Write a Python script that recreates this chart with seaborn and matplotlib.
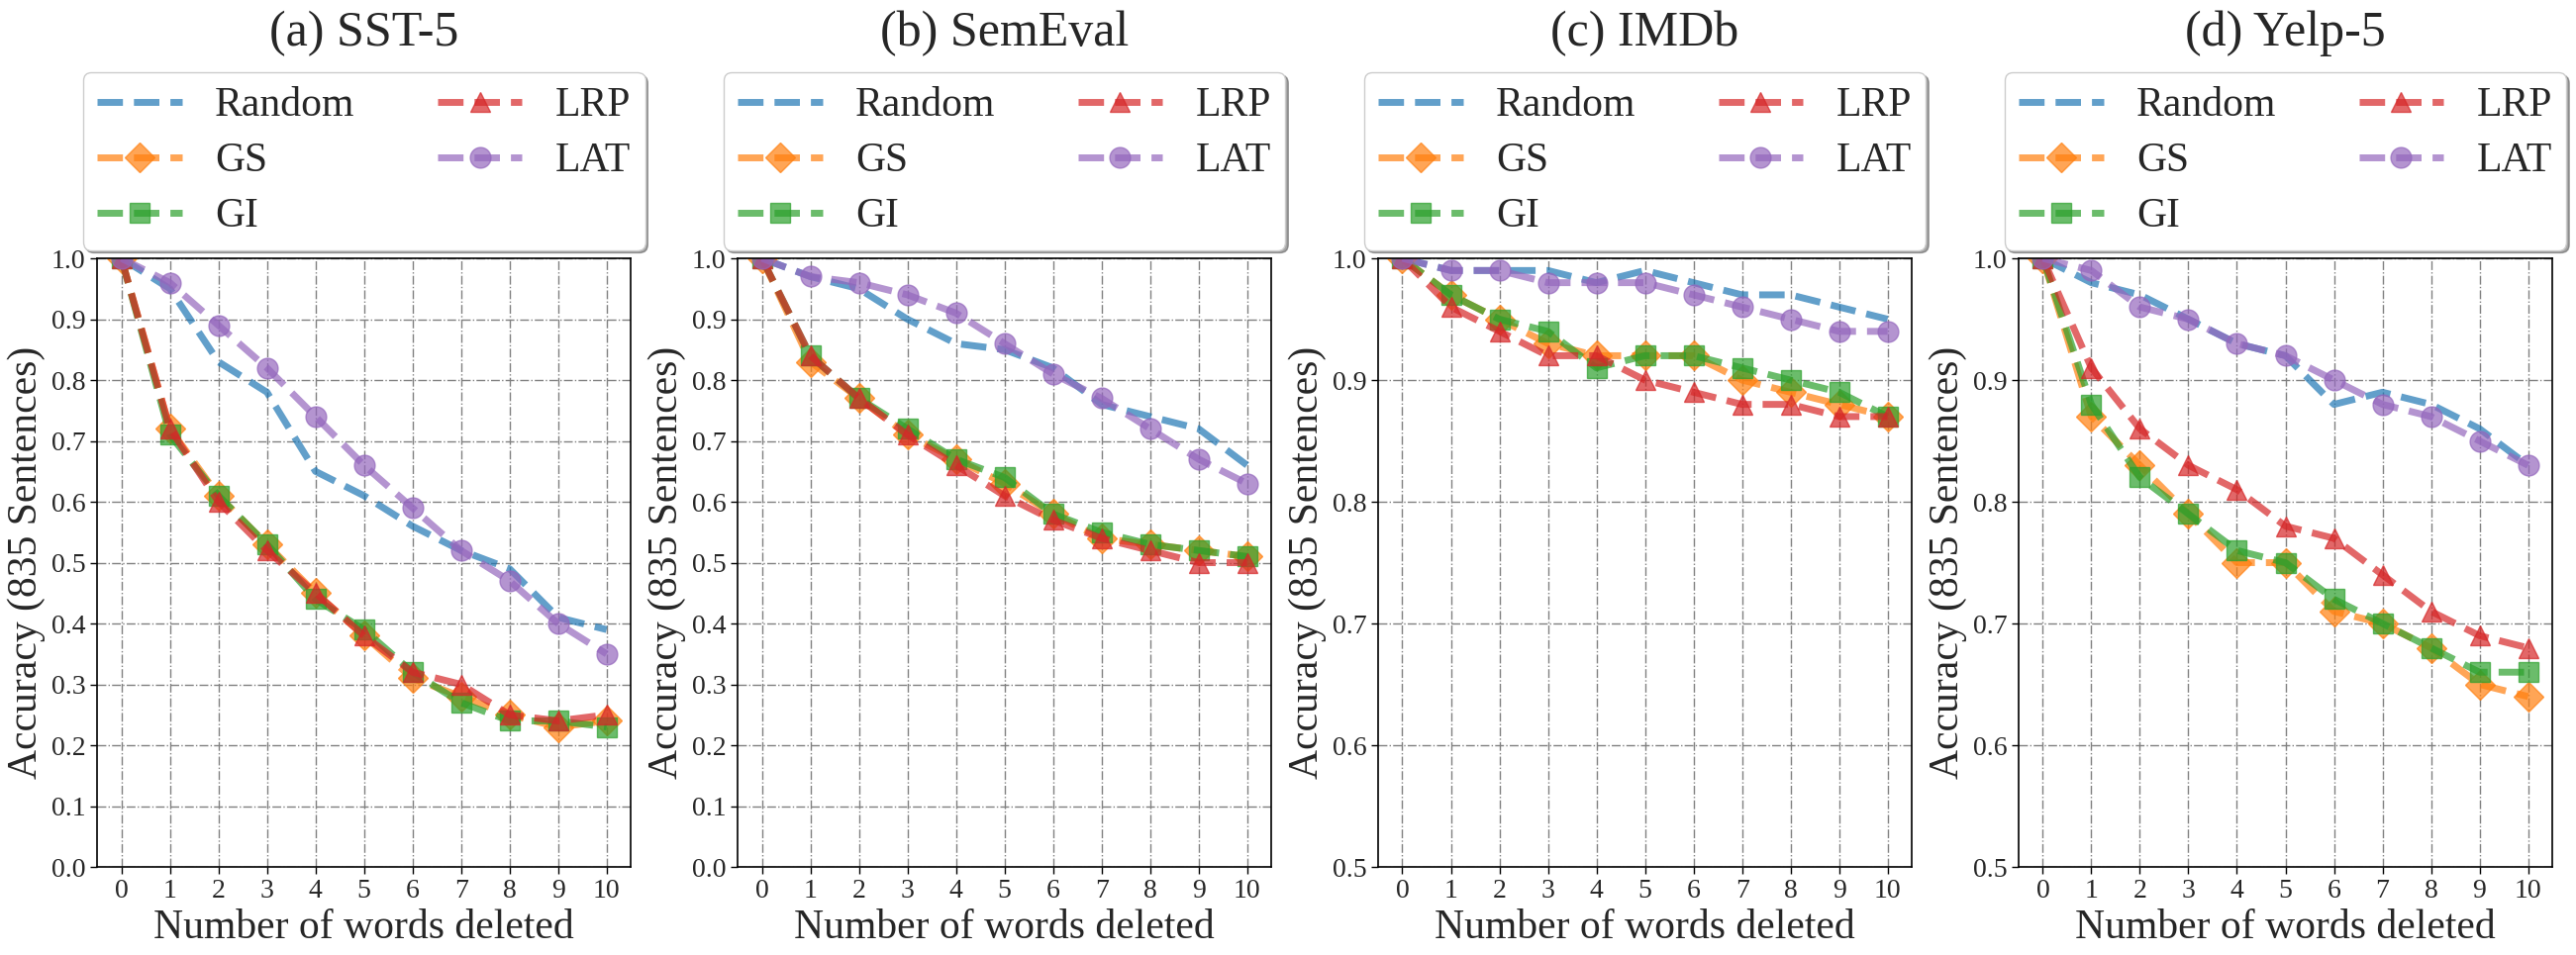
import numpy as np
import pandas as pd
import matplotlib
matplotlib.use("Agg")
import matplotlib.pyplot as plt
import seaborn as sns

# Style
sns.set_theme(style="white")
plt.rcParams["font.serif"] = ["Liberation Serif", "DejaVu Serif"]
plt.rcParams["font.family"] = "serif"

# Data: accuracy after deleting k words
words_deleted = list(range(11))
methods = ["Random", "GS", "GI", "LRP", "LAT"]
colors = {"Random": "#1f77b4", "GS": "#ff7f0e", "GI": "#2ca02c", "LRP": "#d62728", "LAT": "#9467bd"}
markers = {"Random": None, "GS": "D", "GI": "s", "LRP": "^", "LAT": "o"}

titles = ["(a) SST-5", "(b) SemEval", "(c) IMDb", "(d) Yelp-5"]

sst5_random = [1.0, 0.95, 0.83, 0.78, 0.65, 0.61, 0.56, 0.52, 0.49, 0.41, 0.39]
sst5_gs = [1.0, 0.72, 0.61, 0.53, 0.45, 0.38, 0.31, 0.28, 0.25, 0.23, 0.24]
sst5_gi = [1.0, 0.71, 0.61, 0.53, 0.44, 0.39, 0.32, 0.27, 0.24, 0.24, 0.23]
sst5_lrp = [1.0, 0.72, 0.60, 0.52, 0.45, 0.38, 0.32, 0.30, 0.25, 0.24, 0.25]
sst5_lat = [1.0, 0.96, 0.89, 0.82, 0.74, 0.66, 0.59, 0.52, 0.47, 0.40, 0.35]

semeval_random = [1.0, 0.97, 0.95, 0.90, 0.86, 0.85, 0.82, 0.76, 0.74, 0.72, 0.66]
semeval_gs = [1.0, 0.83, 0.77, 0.71, 0.67, 0.63, 0.58, 0.54, 0.53, 0.52, 0.51]
semeval_gi = [1.0, 0.84, 0.77, 0.72, 0.67, 0.64, 0.58, 0.55, 0.53, 0.52, 0.51]
semeval_lrp = [1.0, 0.84, 0.77, 0.71, 0.66, 0.61, 0.57, 0.54, 0.52, 0.50, 0.50]
semeval_lat = [1.0, 0.97, 0.96, 0.94, 0.91, 0.86, 0.81, 0.77, 0.72, 0.67, 0.63]

imdb_random = [1.0, 0.99, 0.99, 0.99, 0.98, 0.99, 0.98, 0.97, 0.97, 0.96, 0.95]
imdb_gs = [1.0, 0.97, 0.95, 0.93, 0.92, 0.92, 0.92, 0.90, 0.89, 0.88, 0.87]
imdb_gi = [1.0, 0.97, 0.95, 0.94, 0.91, 0.92, 0.92, 0.91, 0.90, 0.89, 0.87]
imdb_lrp = [1.0, 0.96, 0.94, 0.92, 0.92, 0.90, 0.89, 0.88, 0.88, 0.87, 0.87]
imdb_lat = [1.0, 0.99, 0.99, 0.98, 0.98, 0.98, 0.97, 0.96, 0.95, 0.94, 0.94]

yelp5_random = [1.0, 0.98, 0.97, 0.95, 0.93, 0.92, 0.88, 0.89, 0.88, 0.86, 0.83]
yelp5_gs = [1.0, 0.87, 0.83, 0.79, 0.75, 0.75, 0.71, 0.70, 0.68, 0.65, 0.64]
yelp5_gi = [1.0, 0.88, 0.82, 0.79, 0.76, 0.75, 0.72, 0.70, 0.68, 0.66, 0.66]
yelp5_lrp = [1.0, 0.91, 0.86, 0.83, 0.81, 0.78, 0.77, 0.74, 0.71, 0.69, 0.68]
yelp5_lat = [1.0, 0.99, 0.96, 0.95, 0.93, 0.92, 0.90, 0.88, 0.87, 0.85, 0.83]

panels = [
    ([sst5_random, sst5_gs, sst5_gi, sst5_lrp, sst5_lat], 0.0),
    ([semeval_random, semeval_gs, semeval_gi, semeval_lrp, semeval_lat], 0.0),
    ([imdb_random, imdb_gs, imdb_gi, imdb_lrp, imdb_lat], 0.5),
    ([yelp5_random, yelp5_gs, yelp5_gi, yelp5_lrp, yelp5_lat], 0.5),
]

fig, axes = plt.subplots(1, 4, figsize=(26.02, 9.65), dpi=100)
fig.subplots_adjust(left=0.0377, right=0.9908, bottom=0.0922, top=0.7295, wspace=0.2)

for ax, title, (series, ymin) in zip(axes, titles, panels):
    for m, vals in zip(methods, series):
        df = pd.DataFrame({"x": words_deleted, "y": vals})
        c = colors[m]
        kw = dict(color=c, linestyle="--", linewidth=5, alpha=0.7, label=m)
        if markers[m] is not None:
            kw.update(marker=markers[m], markersize=15, markeredgecolor=c, markeredgewidth=1)
        sns.lineplot(data=df, x="x", y="y", ax=ax, errorbar=None, **kw)

    ax.set_xlim(-0.5, 10.5)
    ax.set_xticks(words_deleted)
    ax.set_ylim(ymin, 1.0)
    ax.set_yticks(np.round(np.arange(ymin, 1.0001, 0.1), 1))
    ax.yaxis.set_major_formatter(matplotlib.ticker.FormatStrFormatter("%.1f"))
    ax.tick_params(axis="both", labelsize=20, length=5, width=1, color="black", left=True, bottom=True)
    ax.grid(True, linestyle="-.", color="gray", linewidth=1)
    for sp in ax.spines.values():
        sp.set_color("black")
        sp.set_linewidth(1.2)
    ax.set_xlabel("Number of words deleted", fontsize=30)
    ax.set_ylabel("Accuracy (835 Sentences)", fontsize=30, labelpad=4)
    ax.set_title(title, fontsize=36, y=1.0, pad=155)
    leg = ax.legend(loc="lower center", bbox_to_anchor=(0.5, 1.0), ncol=2, fontsize=30,
                    handlelength=2.05, labelspacing=0.42, borderpad=0.35,
                    frameon=True, shadow=True, fancybox=True, borderaxespad=0.2)
    leg.get_frame().set_edgecolor("0.8")

fig.savefig("out.png", dpi=100)
